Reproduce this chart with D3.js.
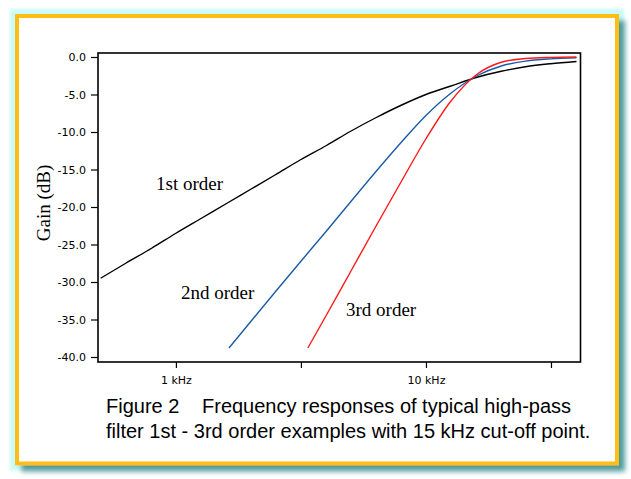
<!DOCTYPE html>
<html>
<head>
<meta charset="utf-8">
<script src="https://cdn.jsdelivr.net/npm/d3@7"></script>
<style>
  body { margin: 0; background: #fff; }
  svg { display: block; }
</style>
</head>
<body>
<div id="chart"></div>
<script>
// frequencies in Hz, gains in dB
var freq1 = [500, 630, 800, 1000, 1250, 1600, 2000, 2500, 3150, 4000, 5000, 6300, 8000, 10000, 12500, 16000, 20000, 25000, 31500, 40000]
var gain1 = [-29.5, -27.5, -25.5, -23.5, -21.6, -19.5, -17.6, -15.7, -13.7, -11.8, -9.9, -8.1, -6.4, -5.0, -3.9, -2.7, -1.9, -1.3, -0.9, -0.6]

var freq2 = [1630, 2000, 2500, 3150, 4000, 5000, 6300, 8000, 10000, 12500, 16000, 20000, 25000, 31500, 40000]
var gain2 = [-38.8, -35.2, -31.3, -27.3, -23.2, -19.3, -15.3, -11.3, -7.8, -4.9, -2.5, -1.2, -0.55, -0.25, -0.1]

var freq3 = [3370, 4000, 5000, 6300, 8000, 10000, 12500, 16000, 20000, 25000, 31500, 40000]
var gain3 = [-38.8, -34.4, -28.6, -22.6, -16.5, -10.9, -6.0, -2.3, -0.7, -0.2, -0.05, 0]

var yTicks = [0, -5, -10, -15, -20, -25, -30, -35, -40]
var xTicks = [1000, 3162, 10000, 31623]
var xTickLabels = {1000: "1 kHz", 10000: "10 kHz"}

var series = [
  {name: "1st order", f: freq1, g: gain1, color: "#000000", lx: 156, ly: 190},
  {name: "2nd order", f: freq2, g: gain2, color: "#1b5ba6", lx: 181, ly: 299},
  {name: "3rd order", f: freq3, g: gain3, color: "#ff1a1a", lx: 346, ly: 316}
]

var W = 631, H = 479
var plot = {left: 98, right: 580.5, top: 53, bottom: 362}

var svg = d3.select("#chart").append("svg")
  .attr("width", W).attr("height", H)

var defs = svg.append("defs")
var filt = defs.append("filter").attr("id", "frame")
  .attr("x", "-5%").attr("y", "-5%").attr("width", "115%").attr("height", "115%")
// cyan glow
filt.append("feMorphology").attr("in", "SourceAlpha").attr("operator", "dilate").attr("radius", 5).attr("result", "dil")
filt.append("feGaussianBlur").attr("in", "dil").attr("stdDeviation", 1.5).attr("result", "dilb")
filt.append("feFlood").attr("flood-color", "#c9fbfb").attr("result", "cy")
filt.append("feComposite").attr("in", "cy").attr("in2", "dilb").attr("operator", "in").attr("result", "glow")
// teal drop shadow
filt.append("feOffset").attr("in", "SourceAlpha").attr("dx", 6).attr("dy", 6).attr("result", "off")
filt.append("feGaussianBlur").attr("in", "off").attr("stdDeviation", 2.5).attr("result", "offb")
filt.append("feFlood").attr("flood-color", "#4f9a9a").attr("result", "tl")
filt.append("feComposite").attr("in", "tl").attr("in2", "offb").attr("operator", "in").attr("result", "shadow")
var merge = filt.append("feMerge")
merge.append("feMergeNode").attr("in", "glow")
merge.append("feMergeNode").attr("in", "shadow")
merge.append("feMergeNode").attr("in", "SourceGraphic")

svg.append("rect")
  .attr("x", 17).attr("y", 16).attr("width", 600).attr("height", 447.5)
  .attr("fill", "#fff")
  .attr("stroke", "#ffbd14").attr("stroke-width", 4)
  .attr("filter", "url(#frame)")

// scales
var x = d3.scaleLog().domain([488, 41500]).range([plot.left, plot.right])
var y = d3.scaleLinear().domain([-40, 0]).range([357, 57])

// plot frame
svg.append("rect")
  .attr("x", plot.left).attr("y", plot.top)
  .attr("width", plot.right - plot.left).attr("height", plot.bottom - plot.top)
  .attr("fill", "none").attr("stroke", "#000").attr("stroke-width", 1.6)

// y axis
var yAxis = d3.axisLeft(y).tickValues(yTicks).tickSize(7).tickPadding(5)
  .tickFormat(function(d) { return d.toFixed(1) })
var gy = svg.append("g").attr("transform", "translate(" + plot.left + ",0)").call(yAxis)
gy.select(".domain").remove()
gy.selectAll(".tick line").attr("stroke-width", 1.2)
gy.selectAll("text").style("font-family", "DejaVu Sans").style("font-size", "11px").attr("fill", "#000")

// x axis
var xAxis = d3.axisBottom(x).tickValues(xTicks).tickSize(6).tickPadding(8)
  .tickFormat(function(d) { return xTickLabels[d] || "" })
var gx = svg.append("g").attr("transform", "translate(0," + plot.bottom + ")").call(xAxis)
gx.select(".domain").remove()
gx.selectAll(".tick line").attr("stroke-width", 1.2)
gx.selectAll("text").style("font-family", "DejaVu Sans").style("font-size", "11px").attr("fill", "#000")

// axis title
svg.append("text")
  .attr("transform", "translate(50,203) rotate(-90)")
  .attr("text-anchor", "middle")
  .style("font-family", "Liberation Serif").style("font-size", "19px")
  .text("Gain (dB)")

// curves
var line = d3.line()
  .x(function(d) { return x(d[0]) })
  .y(function(d) { return y(d[1]) })
  .curve(d3.curveMonotoneX)

series.forEach(function(s) {
  var pts = s.f.map(function(f, i) { return [f, s.g[i]] })
  svg.append("path")
    .attr("d", line(pts))
    .attr("fill", "none")
    .attr("stroke", s.color)
    .attr("stroke-width", 1.4)
  svg.append("text")
    .attr("x", s.lx).attr("y", s.ly)
    .style("font-family", "Liberation Serif").style("font-size", "19px")
    .text(s.name)
})

// caption
var cap = svg.append("text")
  .style("font-family", "Liberation Sans").style("font-size", "20px").attr("fill", "#000")
cap.append("tspan").attr("x", 106).attr("y", 413).text("Figure 2")
cap.append("tspan").attr("x", 202).attr("y", 413).text("Frequency responses of typical high-pass")
cap.append("tspan").attr("x", 106).attr("y", 438).text("filter 1st - 3rd order examples with 15 kHz cut-off point.")
</script>
</body>
</html>
